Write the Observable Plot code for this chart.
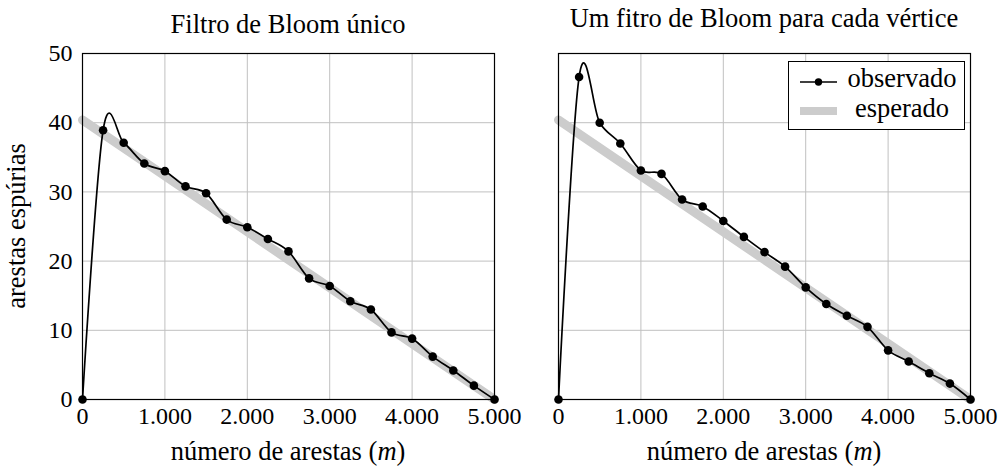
<!DOCTYPE html>
<html><head><meta charset="utf-8">
<script src="https://cdn.jsdelivr.net/npm/d3@7"></script>
<script src="https://cdn.jsdelivr.net/npm/@observablehq/plot@0.6"></script>
<style>
body{margin:0;background:#fff;}
#c{position:relative;width:1005px;height:467px;font-family:"Liberation Serif",serif;color:#000;background:#fff;}
#c > svg, #c > figure{position:absolute;top:0;margin:0;}
svg{overflow:visible}
</style></head><body><div id="c"></div>
<script>
// ---- data ----
const edges = [0,250,500,750,1000,1250,1500,1750,2000,2250,2500,2750,3000,3250,3500,3750,4000,4250,4500,4750,5000];
const singleFilter = [0,38.9,37.1,34.1,33.0,30.8,29.8,26.0,24.9,23.2,21.4,17.5,16.4,14.2,13.0,9.7,8.8,6.2,4.2,2.0,0];
const perVertexFilter = [0,46.6,40.0,37.0,33.1,32.6,28.9,27.9,25.8,23.5,21.3,19.2,16.2,13.8,12.1,10.5,7.1,5.5,3.8,2.3,0];
const expectedEdges = [0,5000];
const expectedValues = [40.4,0];
const xTicks = [0,1000,2000,3000,4000,5000];
const yTicks = [0,10,20,30,40,50];
const titles = ["Filtro de Bloom único","Um fitro de Bloom para cada vértice"];
const xLabel = "número de arestas ";
const yLabel = "arestas espúrias";
const legendLabels = ["observado","esperado"];

const fmt = d => d3.format(",")(d).replace(/,/g,".");
const FONT = "Liberation Serif";
const TXT = 26.5;

function panel(values, {width, marginLeft, marginRight, showY}) {
  const obs = edges.map((x,i)=>({m:x, v:values[i]}));
  const exp = expectedEdges.map((x,i)=>({m:x, v:expectedValues[i]}));
  return Plot.plot({
    width, height: 467, marginLeft, marginRight, marginTop: 53, marginBottom: 68,
    x: {domain: [0,5000], axis: null},
    y: {domain: [0,50], axis: null},
    style: {fontFamily: FONT, fontSize: "24px", color: "#000", background: "transparent", overflow: "visible"},
    marks: [
      Plot.gridX(xTicks, {stroke: "#c0c0c0", strokeOpacity: 1, strokeWidth: 1}),
      Plot.gridY(yTicks, {stroke: "#c0c0c0", strokeOpacity: 1, strokeWidth: 1}),
      Plot.line(exp, {x: "m", y: "v", stroke: "#cccccc", strokeWidth: 9}),
      Plot.frame({stroke: "#000", strokeWidth: 1.2}),
      Plot.line(obs, {x: "m", y: "v", stroke: "#000", strokeWidth: 1.7, curve: "cardinal", tension: 0}),
      Plot.dot(obs, {x: "m", y: "v", r: 4.3, fill: "#000", stroke: "none"}),
      Plot.axisX(xTicks, {tickSize: 0, tickPadding: 7, tickFormat: fmt, label: null, fontSize: 24}),
      showY ? Plot.axisY(yTicks, {tickSize: 0, tickPadding: 10, label: null, fontSize: 24}) : null
    ]
  });
}

const c = document.getElementById("c");
const left = panel(singleFilter, {width: 502, marginLeft: 82, marginRight: 8, showY: true});
left.style.left = "0px";
c.appendChild(left);
const right = panel(perVertexFilter, {width: 503, marginLeft: 56, marginRight: 35, showY: false});
right.style.left = "502px";
c.appendChild(right);

// overlay text (titles, labels, legend)
const ov = d3.select(c).append("svg")
  .attr("width", 1005).attr("height", 467)
  .style("position","absolute").style("left","0px").style("top","0px")
  .style("font-family", FONT).style("pointer-events","none");

ov.append("text").attr("x", 288).attr("y", 33).attr("text-anchor","middle")
  .attr("font-size", TXT).text(titles[0]);
ov.append("text").attr("x", 764).attr("y", 27).attr("text-anchor","middle")
  .attr("font-size", TXT).text(titles[1]);

[288, 764].forEach(cx => {
  const t = ov.append("text").attr("x", cx).attr("y", 460).attr("text-anchor","middle").attr("font-size", TXT);
  t.append("tspan").text(xLabel + "(");
  t.append("tspan").attr("font-style","italic").text("m");
  t.append("tspan").text(")");
});

ov.append("text").attr("transform","translate(25,226) rotate(-90)")
  .attr("text-anchor","middle").attr("font-size", TXT).text(yLabel);

// legend
const lg = ov.append("g");
lg.append("rect").attr("x", 788.5).attr("y", 61.5).attr("width", 176).attr("height", 68)
  .attr("fill","#fff").attr("stroke","#000").attr("stroke-width",1);
lg.append("line").attr("x1", 800).attr("x2", 837).attr("y1", 82).attr("y2", 82)
  .attr("stroke","#000").attr("stroke-width",1.7);
lg.append("circle").attr("cx", 818.5).attr("cy", 82).attr("r", 3.7).attr("fill","#000");
lg.append("line").attr("x1", 800).attr("x2", 837).attr("y1", 111).attr("y2", 111)
  .attr("stroke","#cccccc").attr("stroke-width",8);
lg.append("text").attr("x", 902).attr("y", 87).attr("text-anchor","middle").attr("font-size", TXT).text(legendLabels[0]);
lg.append("text").attr("x", 902).attr("y", 116.5).attr("text-anchor","middle").attr("font-size", TXT).text(legendLabels[1]);
</script>
</body></html>
